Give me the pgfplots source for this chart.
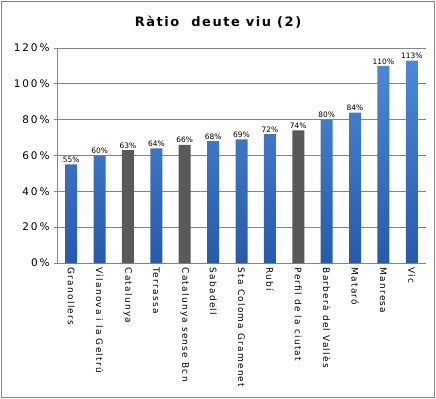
\documentclass[border=0pt]{standalone}
\usepackage{fontspec}
\setmainfont{DejaVu Sans}
\newfontfamily\spaced[LetterSpace=18]{DejaVu Sans}
\newfontfamily\tspaced[LetterSpace=12]{DejaVu Sans}
\newfontfamily\xspaced[LetterSpace=14]{DejaVu Sans}
\usepackage{pgfplots}
\pgfplotsset{compat=1.18}
\definecolor{bartop}{RGB}{78,136,214}
\definecolor{barbot}{RGB}{40,90,168}
\definecolor{bargray}{RGB}{89,89,89}
\definecolor{gridc}{RGB}{134,134,134}
\begin{document}
\begin{tikzpicture}
\begin{axis}[
  at={(0,0)}, anchor=south west,
  scale only axis, width=369bp, height=215bp,
  xmin=-0.5, xmax=12.5, ymin=0, ymax=120,
  ytick={0,20,...,120},
  yticklabel={{\spaced\fontsize{10.5}{11}\selectfont\pgfmathprintnumber{\tick}\%}},
  yticklabel style={/pgf/number format/assume math mode=true, xshift=-1bp},
  xtick={0,...,12},
  xticklabels={Granollers,Vilanova i la Geltrú,Catalunya,Terrassa,Catalunya sense Bcn,Sabadell,Sta Coloma Gramenet,Rubí,Perfil de la ciutat,Barberà del Vallès,Mataró,Manresa,Vic},
  xticklabel style={rotate=-90, anchor=west, font=\xspaced\fontsize{9}{10}\selectfont, inner sep=1.5bp},
  axis lines*=left,
  axis line style={gridc, line width=0.8pt},
  ymajorgrids, grid style={gridc, line width=0.8pt},
  major tick length=3bp,
  ytick style={gridc, line width=0.8pt},
  xtick style={draw=none},
  tick align=outside,
  ybar, bar width=12bp, bar shift=0pt,
  nodes near coords={\pgfmathprintnumber[fixed,precision=0]{\pgfplotspointmeta}\%},
  every node near coord/.append style={font=\fontsize{7.5}{8}\selectfont, inner sep=1.5bp, /pgf/number format/assume math mode=true},
  clip=false,
]
\addplot[draw=none, top color=bartop, bottom color=barbot] coordinates {
 (0,55) (1,60) (3,64) (5,68) (6,69) (7,72) (9,80) (10,84) (11,110) (12,113)
};
\addplot[draw=none, fill=bargray] coordinates {
 (2,63) (4,66) (8,74)
};
\end{axis}
\node[font=\bfseries\fontsize{13}{14}\selectfont, anchor=center] at (161bp,241bp) {\tspaced Ràtio\ \ deute viu (2)};
\draw[gridc, line width=0.8pt] (-56bp,-134bp) rectangle (377bp,262bp);
\pgfresetboundingbox
\useasboundingbox (-57bp,-136bp) rectangle (379bp,263bp);
\end{tikzpicture}
\end{document}
